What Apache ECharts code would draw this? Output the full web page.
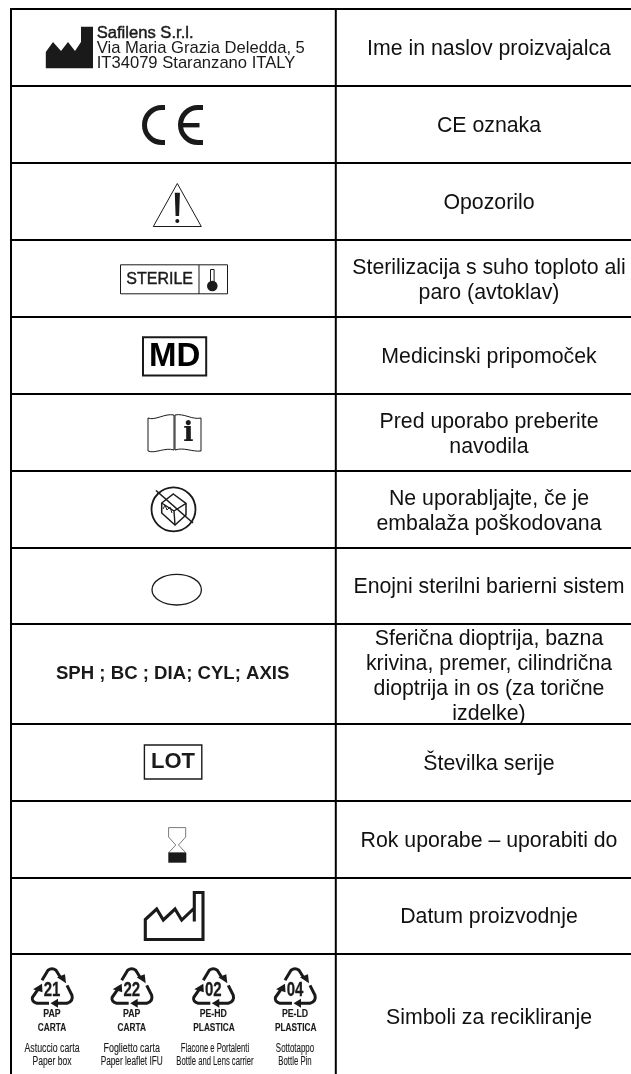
<!DOCTYPE html>
<html>
<head>
<meta charset="utf-8">
<style>html,body{margin:0;padding:0;background:#fff}#c{width:631px;height:1074px}</style>
<script src="https://cdn.jsdelivr.net/npm/echarts@6/dist/echarts.min.js"></script>
</head>
<body>
<div id="c"></div>
<script>
// Table content
const descriptions = [
  'Ime in naslov proizvajalca',
  'CE oznaka',
  'Opozorilo',
  'Sterilizacija s suho toploto ali\nparo (avtoklav)',
  'Medicinski pripomoček',
  'Pred uporabo preberite\nnavodila',
  'Ne uporabljajte, če je\nembalaža poškodovana',
  'Enojni sterilni barierni sistem',
  'Sferična dioptrija, bazna\nkrivina, premer, cilindrična\ndioptrija in os (za torične\nizdelke)',
  'Številka serije',
  'Rok uporabe – uporabiti do',
  'Datum proizvodnje',
  'Simboli za recikliranje'
];
const rowEdges = [9.2, 86, 163, 240, 316.7, 394, 470.7, 547.7, 624, 724, 800.7, 877.7, 954.3, 1080];
const manufacturerLines = ['Safilens S.r.l.', 'Via Maria Grazia Deledda, 5', 'IT34079 Staranzano ITALY'];
const symbolTexts = ['STERILE', 'MD', 'i', 'SPH ; BC ; DIA; CYL; AXIS', 'LOT'];
const recycleCodes = ['21', '22', '02', '04'];
const recycleNames = ['PAP', 'PAP', 'PE-HD', 'PE-LD'];
const recycleMaterials = ['CARTA', 'CARTA', 'PLASTICA', 'PLASTICA'];
const recycleUsesA = ['Astuccio carta', 'Foglietto carta', 'Flacone e Portalenti', 'Sottotappo'];
const recycleUsesB = ['Paper box', 'Paper leaflet IFU', 'Bottle and Lens carrier', 'Bottle Pin'];

const INK = '#1a1a1a';
const SANS = '"Liberation Sans", Arial, sans-serif';
const txt = (x, y, text, font, fill, extra) => ({type: 'text', style: Object.assign({x, y, text, font, fill: fill || INK, textAlign: 'center', textVerticalAlign: 'middle'}, extra || {})});
const squeezed = (x, y, text, font, sx, bold) => ({type: 'text', x, y, scaleX: sx, scaleY: 1, style: {x: 0, y: 0, text, font, fill: INK, stroke: INK, lineWidth: bold, textAlign: 'center', textVerticalAlign: 'middle'}});
const path = (d, fill, stroke, w) => ({type: 'path', shape: {pathData: d}, style: {fill: fill || 'none', stroke: stroke || 'none', lineWidth: w || 0, lineJoin: 'miter'}});
const box = (x, y, width, height, fill, stroke, w) => ({type: 'rect', shape: {x, y, width, height}, style: {fill: fill || 'none', stroke: stroke || 'none', lineWidth: w || 0}});

const recycleIcon = (cx, cy) => {
  const s = (dx, dy) => (cx + dx) + ',' + (cy + dy);
  return [
    path('M' + s(-10, -13) + ' L' + s(-4, -23) + ' Q' + s(0, -26) + ' ' + s(4, -23) + ' L' + s(9, -15), null, INK, 3),
    path('M' + s(5, -16) + ' L' + s(13, -19) + ' L' + s(14, -10) + ' Z', INK),
    path('M' + s(-3, 10) + ' L' + s(-15, 10) + ' Q' + s(-21, 8) + ' ' + s(-19.5, 4) + ' L' + s(-14, -4), null, INK, 3),
    path('M' + s(-19, -4) + ' L' + s(-10, -9.5) + ' L' + s(-9.5, -1) + ' Z', INK),
    path('M' + s(15, -8) + ' L' + s(20, 2) + ' Q' + s(21.5, 8) + ' ' + s(15, 10) + ' L' + s(5, 10), null, INK, 3),
    path('M' + s(6, 5.5) + ' L' + s(-1.5, 10) + ' L' + s(6, 14.5) + ' Z', INK)
  ];
};

const symbolBuilders = [
  () => [
    path('M45.8,68.3 L45.8,52 L53,42 L61,51 L68,42 L75,51 L81,42 L81,26.7 L93,26.7 L93,68.3 Z', INK),
    txt(96.7, 33, manufacturerLines[0], '16.6px ' + SANS, INK, {textAlign: 'left', stroke: INK, lineWidth: 0.45}),
    txt(96.7, 48.3, manufacturerLines[1], '16.6px ' + SANS, INK, {textAlign: 'left'}),
    txt(96.7, 63, manufacturerLines[2], '16.6px ' + SANS, INK, {textAlign: 'left'})
  ],
  () => [
    path('M165,107.5 L162,107.5 A17.5,17.5 0 0 0 162,142.5 L165,142.5', null, INK, 5),
    path('M203,107.5 L198,107.5 A17.5,17.5 0 0 0 198,142.5 L203,142.5', null, INK, 5),
    box(181, 123, 18.5, 4.4, INK)
  ],
  () => [
    path('M177.3,183.5 L201.3,226.5 L153.3,226.5 Z', null, INK, 1),
    path('M174.8,192.7 L179.9,192.7 L179.1,216 L175.6,216 Z', INK),
    {type: 'circle', shape: {cx: 177.3, cy: 221, r: 2}, style: {fill: INK}}
  ],
  () => [
    box(120.5, 264.8, 107, 29, null, INK, 1),
    {type: 'line', shape: {x1: 199, y1: 265, x2: 199, y2: 294}, style: {stroke: INK, lineWidth: 1}},
    txt(159.7, 280, symbolTexts[0], '16px ' + SANS, INK, {stroke: INK, lineWidth: 0.4}),
    box(210.5, 269.5, 3.6, 14, null, INK, 1),
    {type: 'circle', shape: {cx: 212.3, cy: 286, r: 5.3}, style: {fill: INK}}
  ],
  () => [
    box(143, 337.2, 63.2, 38.4, null, INK, 2),
    txt(174.6, 357, symbolTexts[1], 'bold 33px ' + SANS, '#000')
  ],
  () => [
    path('M148,418 C155,421 165,413 174,415 L174,450 C165,447 155,454 148,451 Z', null, INK, 1),
    path('M175,415 C184,413 192,420 201,418 L201,451 C192,452 184,447 175,450 Z', null, INK, 1),
    txt(188.3, 433.5, symbolTexts[2], 'bold 27px "DejaVu Serif", serif', INK)
  ],
  () => [
    {type: 'circle', shape: {cx: 173.5, cy: 509.3, r: 22}, style: {fill: 'none', stroke: INK, lineWidth: 1.8}},
    path('M156,490.5 L193,523', null, INK, 1.6),
    path('M173.3,494 L186,503.3 L186,515 L175,525 L161.7,513 L161.7,503 Z', null, INK, 1.5),
    path('M161.7,503 L174,511 L186,503.3 M174,511 L175,525', null, INK, 1.4),
    path('M163,509 L165,505 L167,510 L170,507 L172,513', null, INK, 1)
  ],
  () => [
    {type: 'ellipse', shape: {cx: 176.7, cy: 589.7, rx: 24.7, ry: 15.3}, style: {fill: 'none', stroke: INK, lineWidth: 1.3}}
  ],
  () => [
    txt(172.7, 674.3, symbolTexts[3], 'bold 18.6px ' + SANS, INK)
  ],
  () => [
    box(144.4, 745, 57.4, 34, null, INK, 1.4),
    txt(173, 762.3, symbolTexts[4], 'bold 22px ' + SANS, INK)
  ],
  () => [
    path('M168.6,827.6 L185.7,827.6 L185.7,837 L178.5,845 L185.7,852.7 L168.6,852.7 L175.8,845 L168.6,837 Z', null, '#444', 0.7),
    box(168.3, 852.7, 18, 10, INK)
  ],
  () => [
    path('M194.3,921.5 L194.3,892.5 L203,892.5 L203,939.5 L145.3,939.5 L145.3,919.5 L156.7,909 L163.3,920 L175,909 L181.7,920 L194.3,908', null, INK, 3.1)
  ],
  () => {
    const iconX = [52, 131.7, 213.3, 295];
    const useX = [52, 131.7, 215, 295];
    const scaleA = [0.73, 0.74, 0.64, 0.66];
    const scaleB = [0.71, 0.69, 0.64, 0.65];
    const out = [];
    iconX.forEach((x, i) => {
      out.push(...recycleIcon(x, 993.3));
      out.push(squeezed(x, 990.5, recycleCodes[i], 'bold 20.5px ' + SANS, 0.73, 0.3));
      out.push(squeezed(x, 1013.5, recycleNames[i], 'bold 11.5px ' + SANS, 0.76, 0.15));
      out.push(squeezed(x + (i > 1 ? 0.7 : 0), 1027.6, recycleMaterials[i], 'bold 11.5px ' + SANS, 0.72, 0.15));
      out.push(squeezed(useX[i], 1048.3, recycleUsesA[i], '12px ' + SANS, scaleA[i], 0.12));
      out.push(squeezed(useX[i], 1061.8, recycleUsesB[i], '12px ' + SANS, scaleB[i], 0.12));
    });
    return out;
  }
];

const renderRow = (params, api) => {
  const i = params.dataIndex;
  const top = api.coord([0, api.value(0)]);
  const bottom = api.coord([0, api.value(1)]);
  const left = api.coord([11, 0])[0];
  const divider = api.coord([335.8, 0])[0];
  const right = api.coord([631, 0])[0];
  const colCentre = api.coord([489, 0])[0];
  const children = [];
  const lineTop = Math.round(top[1] - 1);
  if (i === 0) {
    children.push(box(left - 1, lineTop, 2, 1075, '#000'));
    children.push(box(divider - 1, lineTop, 2, 1075, '#000'));
  }
  children.push(box(left - 1, lineTop, right - left + 1, 2, '#000'));
  const multi = descriptions[i].indexOf('\n') >= 0;
  const mid = i === descriptions.length - 1 ? 1018.5 : (top[1] + bottom[1]) / 2 + (multi ? 2.5 : 1.5);
  children.push(txt(colCentre, mid, descriptions[i], '21.3px ' + SANS, '#111', {lineHeight: 25.2}));
  children.push(...symbolBuilders[i]());
  return {type: 'group', children};
};

const rowData = descriptions.map((d, i) => [rowEdges[i], rowEdges[i + 1], d]);

const chart = echarts.init(document.getElementById('c'), null, {renderer: 'canvas'});
chart.setOption({
  animation: false,
  backgroundColor: '#fff',
  grid: {left: 0, right: 0, top: 0, bottom: 0},
  xAxis: {type: 'value', min: 0, max: 631, show: false},
  yAxis: {type: 'value', min: 0, max: 1074, inverse: true, show: false},
  tooltip: {show: false},
  series: [{type: 'custom', coordinateSystem: 'cartesian2d', clip: false, silent: true, renderItem: renderRow, data: rowData, encode: {y: [0, 1]}}]
});
</script>
</body>
</html>
